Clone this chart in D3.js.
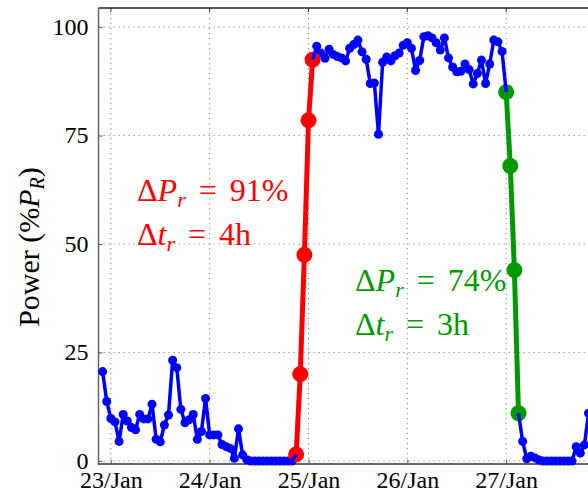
<!DOCTYPE html>
<html>
<head>
<meta charset="utf-8">
<script src="https://cdn.jsdelivr.net/npm/d3@7"></script>
<style>
  html, body { margin: 0; padding: 0; background: #fff; overflow: hidden; }
  svg { display: block; }
  text { font-family: "Liberation Serif", "DejaVu Serif", serif; }
</style>
</head>
<body>
<svg id="chart" width="588" height="493"></svg>
<script>
// Hourly power output, starting 22 Jan 22:00 (percent of rated power)
const seriesStart = new Date(2000, 0, 22, 22);
const powerValues = [
  20.6, 13.7, 9.8, 9.0, 4.5, 10.7, 9.2, 7.7, 7.2, 10.7,
  9.7, 9.7, 13.1, 5.0, 4.4, 8.3, 10.6, 23.2, 21.5, 11.9,
  8.8, 9.5, 10.7, 5.0, 6.8, 14.4, 6.0, 6.0, 6.0, 3.8,
  3.3, 2.9, 0.6, 7.4, 1.4, 0.3, 0, 0, 0, 0,
  0, 0, 0, 0, 0, 0, 0, 1.5, null, null,
  null, 92.5, 95.6, 94.0, 92.8, 94.9, 93.7, 93.2, 92.9, 92.2,
  95.1, 96.0, 97.0, 94.3, 92.6, 87.0, 87.1, 75.3, 91.9, 93.1,
  92.2, 93.4, 94.0, 95.8, 96.4, 95.1, 90.0, 92.3, 97.8, 98.0,
  97.5, 96.4, 94.7, 97.5, 92.9, 90.8, 89.7, 89.8, 91.5, 90.2,
  86.9, 89.3, 92.4, 87.0, 91.5, 97.0, 96.6, 94.4, 85.0, null,
  null, 11.0, 4.5, 0.5, 1.1, 0.7, 0.2, 0, 0, 0,
  0, 0, 0, 0, 0, 3.3, 1.8, 3.7, 11.0
];

// Ramp-up event (25 Jan) and ramp-down event (27 Jan)
const rampUpStart = new Date(2000, 0, 24, 21);
const rampUpValues = [1.5, 20, 47.5, 78.5, 92.5];
const rampDownStart = new Date(2000, 0, 27, 0);
const rampDownValues = [85, 68, 44, 11];

const yTicks = [0, 25, 50, 75, 100];
const xTickDates = [
  new Date(2000, 0, 23), new Date(2000, 0, 24), new Date(2000, 0, 25),
  new Date(2000, 0, 26), new Date(2000, 0, 27)
];
const xTickLabels = ["23/Jan", "24/Jan", "25/Jan", "26/Jan", "27/Jan"];

const rampUpText = { dP: "91%", dt: "4h" };
const rampDownText = { dP: "74%", dt: "3h" };

const toPoints = (start, vals) =>
  vals.map((v, i) => ({ t: d3.timeHour.offset(start, i), v }));

const power = toPoints(seriesStart, powerValues);
const rampUp = toPoints(rampUpStart, rampUpValues);
const rampDown = toPoints(rampDownStart, rampDownValues);

const svg = d3.select("#chart");
const plotLeft = 98.5, plotTop = 8, plotBottom = 464, plotRight = 605;

const x = d3.scaleTime()
  .domain([new Date(2000, 0, 22, 21), new Date(2000, 0, 28, 0)])
  .range([plotLeft, plotRight]);
const y = d3.scaleLinear().domain([-0.7, 104.4]).range([plotBottom, plotTop]);

// dotted grid
const grid = svg.append("g").attr("stroke", "#8a8a8a").attr("stroke-width", 1)
  .attr("stroke-dasharray", "1.3,3.7");
grid.selectAll("line.h").data(yTicks).join("line").attr("class", "h")
  .attr("x1", plotLeft).attr("x2", plotRight)
  .attr("y1", d => y(d)).attr("y2", d => y(d));
grid.selectAll("line.v").data(xTickDates).join("line").attr("class", "v")
  .attr("x1", d => x(d)).attr("x2", d => x(d))
  .attr("y1", plotTop).attr("y2", plotBottom);

// axes
const yAxis = d3.axisLeft(y).tickValues(yTicks).tickSize(-4).tickPadding(10);
const gy = svg.append("g").attr("transform", `translate(${plotLeft},0)`).call(yAxis);
gy.select(".domain").remove();
gy.selectAll(".tick line").attr("stroke", "#555");
gy.selectAll(".tick text").attr("font-size", 24).attr("fill", "#000")
  .attr("dy", "0.3em")
  .attr("font-family", "Liberation Serif, serif");

const xAxis = d3.axisBottom(x).tickValues(xTickDates)
  .tickFormat((d, i) => xTickLabels[i]).tickSize(-4).tickPadding(7);
const gx = svg.append("g").attr("transform", `translate(0,${plotBottom})`).call(xAxis);
gx.select(".domain").remove();
gx.selectAll(".tick line").attr("stroke", "#555");
gx.selectAll(".tick text").attr("font-size", 24).attr("fill", "#000")
  .attr("font-family", "Liberation Serif, serif");

// top ticks
svg.append("g").selectAll("line").data(xTickDates).join("line")
  .attr("x1", d => x(d)).attr("x2", d => x(d))
  .attr("y1", plotTop).attr("y2", plotTop + 4).attr("stroke", "#333");

// frame
svg.append("line").attr("x1", plotLeft).attr("x2", 588).attr("y1", plotTop).attr("y2", plotTop)
  .attr("stroke", "#222").attr("stroke-width", 1.5);
svg.append("line").attr("x1", plotLeft).attr("x2", plotLeft).attr("y1", plotTop).attr("y2", plotBottom)
  .attr("stroke", "#666").attr("stroke-width", 1.5);
svg.append("line").attr("x1", plotLeft - 1).attr("x2", 588).attr("y1", plotBottom).attr("y2", plotBottom)
  .attr("stroke", "#666").attr("stroke-width", 2);

const line = d3.line().defined(d => d.v !== null).x(d => x(d.t)).y(d => y(d.v));

// blue markers
svg.append("g").attr("fill", "#0000ff")
  .selectAll("circle").data(power.filter(d => d.v !== null)).join("circle")
  .attr("cx", d => x(d.t)).attr("cy", d => y(d.v)).attr("r", 4.5);

// ramp events
function drawRamp(data, color) {
  svg.append("path").datum(data).attr("d", line)
    .attr("fill", "none").attr("stroke", color).attr("stroke-width", 5)
    .attr("stroke-linejoin", "round");
  svg.append("g").attr("fill", color)
    .selectAll("circle").data(data).join("circle")
    .attr("cx", d => x(d.t)).attr("cy", d => y(d.v)).attr("r", 8);
}
drawRamp(rampUp, "#ff0000");
drawRamp(rampDown, "#009a00");

// blue line
svg.append("path").datum(power).attr("d", line)
  .attr("fill", "none").attr("stroke", "#0000ff").attr("stroke-width", 3.5)
  .attr("stroke-linejoin", "round");

// annotations
function mathLabel(xp, yp, color, sym, value) {
  const t = svg.append("text").attr("x", xp).attr("y", yp)
    .attr("fill", color).attr("font-size", 32);
  t.append("tspan").text("\u0394");
  t.append("tspan").attr("font-style", "italic").text(sym);
  t.append("tspan").attr("font-style", "italic").attr("font-size", 22)
    .attr("dy", 6).text("r");
  t.append("tspan").attr("dy", -6).attr("dx", 13).text("=");
  t.append("tspan").attr("dx", 13).text(value);
}
mathLabel(137, 201, "#ff0000", "P", rampUpText.dP);
mathLabel(137, 245, "#ff0000", "t", rampUpText.dt);
mathLabel(355, 291, "#009a00", "P", rampDownText.dP);
mathLabel(355, 335, "#009a00", "t", rampDownText.dt);

// y-axis title
const yt = svg.append("text")
  .attr("transform", "translate(39,247) rotate(-90)")
  .attr("text-anchor", "middle").attr("font-size", 30).attr("fill", "#000");
yt.append("tspan").text("Power (%");
yt.append("tspan").attr("font-style", "italic").text("P");
yt.append("tspan").attr("font-style", "italic").attr("font-size", 20).attr("dy", 5).text("R");
yt.append("tspan").attr("dy", -5).text(")");
</script>
</body>
</html>
